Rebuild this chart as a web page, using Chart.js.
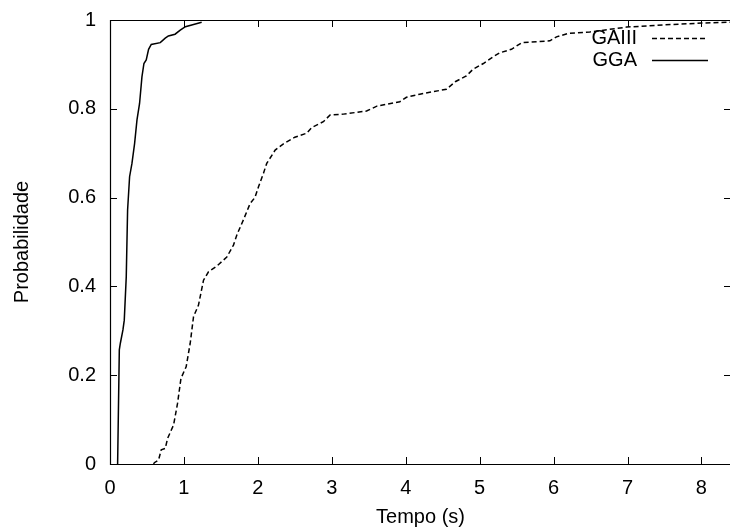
<!DOCTYPE html>
<html>
<head>
<meta charset="utf-8">
<script src="https://cdn.jsdelivr.net/npm/chart.js@4"></script>
<style>
html,body{margin:0;padding:0;background:#fff;overflow:hidden;}
#wrap{width:732px;height:531px;position:relative;}
</style>
</head>
<body>
<div id="wrap"><canvas id="c"></canvas></div>
<script>
// ---- data ----
const seriesLabels = ["GAIII", "GGA"];
const gaiiiX = [0.59, 0.60, 0.657, 0.693, 0.747, 0.78, 0.86, 0.914, 0.96, 1.03, 1.085, 1.13, 1.197, 1.265, 1.332, 1.446, 1.58, 1.67, 1.716, 1.805, 1.896, 1.96, 2.01, 2.076, 2.12, 2.234, 2.346, 2.50, 2.66, 2.73, 2.886, 2.977, 3.157, 3.47, 3.61, 3.92, 4.01, 4.19, 4.55, 4.67, 4.82, 4.91, 5.05, 5.18, 5.27, 5.43, 5.57, 5.95, 6.04, 6.2, 6.49, 6.99, 7.48, 8.0, 8.4];
const gaiiiY = [0, 0.003, 0.009, 0.032, 0.035, 0.058, 0.088, 0.137, 0.193, 0.219, 0.272, 0.332, 0.358, 0.414, 0.433, 0.446, 0.466, 0.493, 0.516, 0.55, 0.587, 0.6, 0.625, 0.655, 0.677, 0.707, 0.721, 0.736, 0.745, 0.758, 0.771, 0.786, 0.788, 0.795, 0.806, 0.816, 0.826, 0.833, 0.844, 0.861, 0.874, 0.889, 0.902, 0.917, 0.926, 0.934, 0.949, 0.953, 0.962, 0.97, 0.973, 0.984, 0.989, 0.993, 0.995];
const ggaX = [0.103, 0.126, 0.14, 0.175, 0.193, 0.22, 0.238, 0.265, 0.297, 0.333, 0.365, 0.40, 0.432, 0.459, 0.49, 0.522, 0.558, 0.68, 0.747, 0.79, 0.88, 0.95, 1.02, 1.13, 1.24];
const ggaY = [0, 0.257, 0.272, 0.302, 0.324, 0.422, 0.572, 0.647, 0.677, 0.722, 0.775, 0.812, 0.872, 0.902, 0.91, 0.934, 0.945, 0.949, 0.959, 0.964, 0.968, 0.977, 0.985, 0.99, 0.995];
const xTickValues = [0, 1, 2, 3, 4, 5, 6, 7, 8];
const yTickValues = [0, 0.2, 0.4, 0.6, 0.8, 1];
const xTitle = "Tempo (s)";
const yTitle = "Probabilidade";

const toPts = (xs, ys) => xs.map((x, i) => ({x: x, y: ys[i]}));
const FONT = "'Liberation Sans', Arial, Helvetica, sans-serif";
const FS = 20;

const frameTicks = {
  id: 'frameTicks',
  afterDatasetsDraw(chart) {
    const ctx = chart.ctx, a = chart.chartArea;
    const xs = chart.scales.x, ys = chart.scales.y;
    const L = 7;
    ctx.save();
    ctx.strokeStyle = '#000';
    ctx.lineWidth = 1.2;
    ctx.beginPath();
    ctx.rect(Math.round(a.left) + 0.5, Math.round(a.top) + 0.5, Math.round(a.right - a.left), Math.round(a.bottom - a.top));
    ctx.stroke();
    ctx.lineWidth = 1;
    ctx.beginPath();
    xTickValues.forEach(v => {
      const px = Math.round(xs.getPixelForValue(v)) + 0.5;
      ctx.moveTo(px, a.bottom); ctx.lineTo(px, a.bottom - L);
      ctx.moveTo(px, a.top); ctx.lineTo(px, a.top + L);
    });
    yTickValues.forEach(v => {
      const py = Math.round(ys.getPixelForValue(v)) + 0.5;
      ctx.moveTo(a.left, py); ctx.lineTo(a.left + L, py);
      ctx.moveTo(a.right, py); ctx.lineTo(a.right - L, py);
    });
    ctx.stroke();
    ctx.restore();
  }
};

const gnuLegend = {
  id: 'gnuLegend',
  afterDraw(chart) {
    const ctx = chart.ctx;
    ctx.save();
    ctx.font = FS + "px " + FONT;
    ctx.fillStyle = '#000';
    ctx.textAlign = 'right';
    ctx.textBaseline = 'middle';
    chart.data.datasets.forEach((ds, i) => {
      const y = 38 + i * 22;
      ctx.fillText(ds.label, 637, y);
      ctx.strokeStyle = ds.borderColor;
      ctx.lineWidth = ds.borderWidth;
      ctx.setLineDash(ds.borderDash || []);
      ctx.beginPath();
      ctx.moveTo(652, y + 0.5); ctx.lineTo(708, y + 0.5);
      ctx.stroke();
    });
    ctx.restore();
  }
};

new Chart(document.getElementById('c'), {
  type: 'line',
  data: {
    datasets: [
      { label: seriesLabels[0], data: toPts(gaiiiX, gaiiiY), borderColor: '#000', borderWidth: 1.5, borderDash: [5, 3], pointRadius: 0, tension: 0, fill: false },
      { label: seriesLabels[1], data: toPts(ggaX, ggaY), borderColor: '#000', borderWidth: 1.5, pointRadius: 0, tension: 0, fill: false }
    ]
  },
  options: {
    responsive: true,
    maintainAspectRatio: false,
    animation: false,
    events: [],
    layout: { padding: { top: 20, right: 1, left: 0, bottom: 0 } },
    plugins: { legend: { display: false }, tooltip: { enabled: false } },
    scales: {
      x: {
        type: 'linear', min: 0, max: 8.4,
        afterBuildTicks: s => { s.ticks = xTickValues.map(v => ({value: v})); },
        afterFit: s => { s.height = 67; },
        grid: { display: false }, border: { display: false },
        ticks: { color: '#000', font: { family: FONT, size: FS }, padding: 4, maxRotation: 0, autoSkip: false, callback: v => String(v) },
        title: { display: true, text: xTitle, color: '#000', font: { family: FONT, size: FS }, padding: { top: 0, bottom: 2 } }
      },
      y: {
        type: 'linear', min: 0, max: 1,
        afterBuildTicks: s => { s.ticks = yTickValues.map(v => ({value: v})); },
        afterFit: s => { s.width = 110; },
        grid: { display: false }, border: { display: false },
        ticks: { color: '#000', font: { family: FONT, size: FS }, padding: 6, callback: v => String(+(+v).toFixed(2)) },
        title: { display: true, text: yTitle, color: '#000', font: { family: FONT, size: FS }, padding: { top: 10, bottom: 0 } }
      }
    }
  },
  plugins: [frameTicks, gnuLegend]
});
</script>
</body>
</html>
